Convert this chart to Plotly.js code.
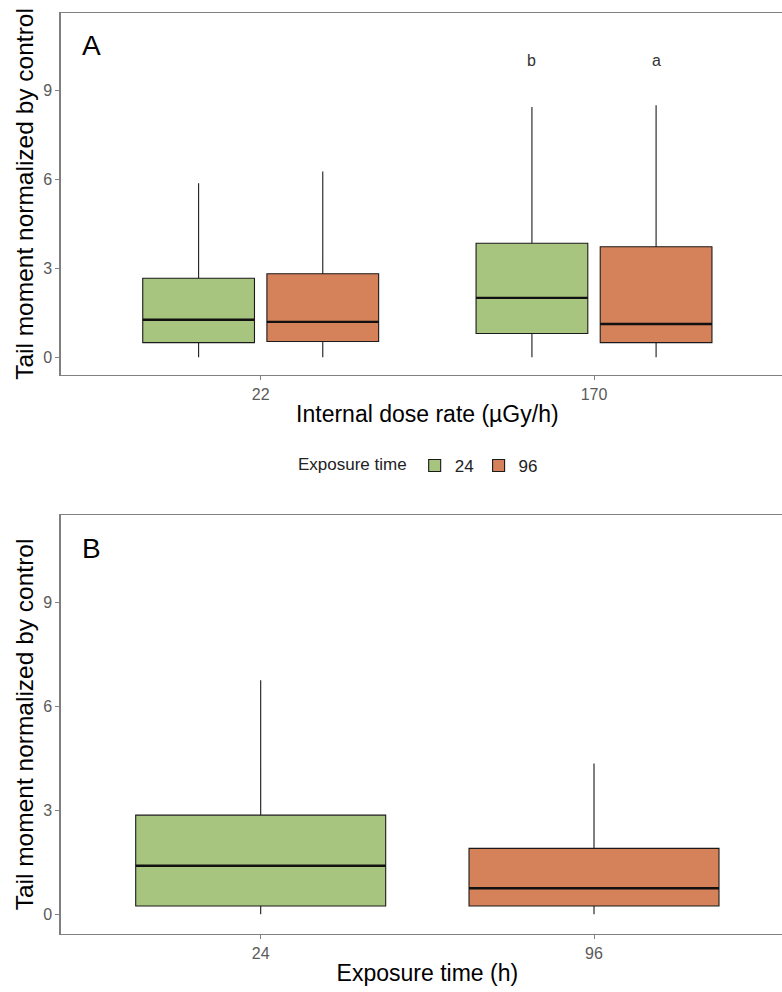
<!DOCTYPE html>
<html>
<head>
<meta charset="utf-8">
<script src="https://cdn.plot.ly/plotly-3.0.1.min.js"></script>
<style>
  html, body { margin: 0; padding: 0; overflow: hidden; background: #fff; }
  #chart { width: 800px; height: 992px; }
</style>
</head>
<body>
<div id="chart"></div>
<script>
// ---------- Panel A data (internal dose rate x exposure time) ----------
const doseCategories = ['22', '170'];
const A24_q1     = [0.49, 0.80];
const A24_median = [1.26, 2.00];
const A24_q3     = [2.66, 3.84];
const A24_lower  = [0.00, 0.00];
const A24_upper  = [5.86, 8.43];

const A96_q1     = [0.53, 0.49];
const A96_median = [1.19, 1.12];
const A96_q3     = [2.81, 3.72];
const A96_lower  = [0.00, 0.00];
const A96_upper  = [6.26, 8.49];

const A24_letters = ['', 'b'];
const A96_letters = ['', 'a'];
const letterY = 10;

// ---------- Panel B data (exposure time) ----------
const timeCategories = ['24', '96'];
const B_q1     = [0.24, 0.24];
const B_median = [1.40, 0.75];
const B_q3     = [2.86, 1.90];
const B_lower  = [0.00, 0.00];
const B_upper  = [6.75, 4.35];

const legendNames = ['24', '96'];

// ---------- styles ----------
const GREEN = '#a8c57f';
const ORANGE = '#d5825a';
const OUTLINE = '#1a1a1a';
const FRAME = '#808080';
const FONT = 'Liberation Sans, Arial, sans-serif';
const BOXGAP = 0.255;
const BOXGROUPGAP = 0.1;

function boxTrace(name, xs, q1, med, q3, lo, hi, color, xa, ya, extra) {
  return Object.assign({
    type: 'box',
    name: name,
    x: xs,
    q1: q1, median: med, q3: q3, lowerfence: lo, upperfence: hi,
    fillcolor: color,
    line: { color: OUTLINE, width: 1.1 },
    whiskerwidth: 0,
    boxpoints: false,
    hoverinfo: 'skip',
    xaxis: xa, yaxis: ya,
    legendgroup: name
  }, extra || {});
}
// thick median bar drawn as a degenerate box at the median value
function medianTrace(name, xs, med, xa, ya, extra) {
  return boxTrace(name, xs, med, med, med, med, med, 'rgba(0,0,0,0)', xa, ya,
    Object.assign({ line: { color: '#111111', width: 2.4 }, showlegend: false }, extra));
}

const traces = [
  boxTrace(legendNames[0], doseCategories, A24_q1, A24_median, A24_q3, A24_lower, A24_upper, GREEN, 'x', 'y',
           { offsetgroup: 'A24', alignmentgroup: 'A', showlegend: true }),
  boxTrace(legendNames[1], doseCategories, A96_q1, A96_median, A96_q3, A96_lower, A96_upper, ORANGE, 'x', 'y',
           { offsetgroup: 'A96', alignmentgroup: 'A', showlegend: true }),
  medianTrace(legendNames[0], doseCategories, A24_median, 'x', 'y', { offsetgroup: 'A24', alignmentgroup: 'A' }),
  medianTrace(legendNames[1], doseCategories, A96_median, 'x', 'y', { offsetgroup: 'A96', alignmentgroup: 'A' }),
  boxTrace(legendNames[0], [timeCategories[0]], [B_q1[0]], [B_median[0]], [B_q3[0]], [B_lower[0]], [B_upper[0]], GREEN, 'x2', 'y2',
           { offsetgroup: 'B', alignmentgroup: 'B', showlegend: false, width: 0.75 }),
  boxTrace(legendNames[1], [timeCategories[1]], [B_q1[1]], [B_median[1]], [B_q3[1]], [B_lower[1]], [B_upper[1]], ORANGE, 'x2', 'y2',
           { offsetgroup: 'B', alignmentgroup: 'B', showlegend: false, width: 0.75 }),
  medianTrace(legendNames[0], [timeCategories[0]], [B_median[0]], 'x2', 'y2', { offsetgroup: 'B', alignmentgroup: 'B', width: 0.75 }),
  medianTrace(legendNames[1], [timeCategories[1]], [B_median[1]], 'x2', 'y2', { offsetgroup: 'B', alignmentgroup: 'B', width: 0.75 })
];

// significance letters placed at dodged box centres
const dodge = 0.25 * (1 - BOXGAP);
const annotations = [];
doseCategories.forEach((c, i) => {
  [[A24_letters, -dodge], [A96_letters, dodge]].forEach(([letters, off]) => {
    if (letters[i]) {
      annotations.push({
        xref: 'x', yref: 'y', x: i + off, y: letterY, text: letters[i],
        showarrow: false, font: { family: FONT, size: 16, color: '#333333' }
      });
    }
  });
});
// panel labels
annotations.push({ xref: 'paper', yref: 'paper', x: 80/800, y: 1 - 45/992, text: 'A',
  showarrow: false, xanchor: 'left', yanchor: 'middle', font: { family: FONT, size: 28, color: '#000' } });
annotations.push({ xref: 'paper', yref: 'paper', x: 80/800, y: 1 - 548/992, text: 'B',
  showarrow: false, xanchor: 'left', yanchor: 'middle', font: { family: FONT, size: 28, color: '#000' } });

const tickFont = { family: FONT, size: 16, color: '#5a5a5a' };
const xTitleFont = { family: FONT, size: 23, color: '#000' };
const yTitleFont = { family: FONT, size: 24.5, color: '#000' };

function yAxis(domain, range) {
  return {
    domain: domain, range: range,
    tickvals: [0, 3, 6, 9], ticks: 'outside', ticklen: 4, tickcolor: FRAME, tickwidth: 1,
    showline: true, mirror: true, linecolor: FRAME, linewidth: 1.3,
    showgrid: false, zeroline: false, tickfont: tickFont,
    title: { text: 'Tail moment normalized by control', font: yTitleFont, standoff: 2 }
  };
}
function xAxis(domain, cats, title, anchor) {
  return {
    domain: domain, type: 'category', categoryorder: 'array', categoryarray: cats,
    range: [-0.6, 1.6], anchor: anchor,
    ticks: 'outside', ticklen: 4, tickcolor: FRAME, tickwidth: 1,
    showline: true, mirror: true, linecolor: FRAME, linewidth: 1.3,
    showgrid: false, zeroline: false, tickfont: tickFont,
    title: { text: title, font: xTitleFont, standoff: 4 }
  };
}

const xdom = [60.7/800, 794/800];
const layout = {
  width: 800, height: 992,
  margin: { l: 0, r: 0, t: 0, b: 0 },
  paper_bgcolor: '#ffffff', plot_bgcolor: '#ffffff',
  font: { family: FONT },
  boxmode: 'group', boxgap: BOXGAP, boxgroupgap: BOXGROUPGAP,
  xaxis: xAxis(xdom, doseCategories, 'Internal dose rate (µGy/h)', 'y'),
  yaxis: yAxis([1 - 375/992, 1 - 13/992], [-0.6, 11.6]),
  xaxis2: xAxis(xdom, timeCategories, 'Exposure time (h)', 'y2'),
  yaxis2: yAxis([1 - 934/992, 1 - 515/992], [-0.57, 11.52]),
  showlegend: true,
  legend: {
    orientation: 'h', x: 296/800, xanchor: 'left', y: 1 - 466/992, yanchor: 'middle',
    title: { text: 'Exposure time', side: 'left', font: { family: FONT, size: 17, color: '#222' } },
    font: { family: FONT, size: 17, color: '#222' },
    itemwidth: 30, tracegroupgap: 0, bgcolor: 'rgba(0,0,0,0)'
  },
  annotations: annotations
};
layout.yaxis.anchor = 'x';
layout.yaxis2.anchor = 'x2';

Plotly.newPlot('chart', traces, layout, { staticPlot: true, displayModeBar: false });
</script>
</body>
</html>
